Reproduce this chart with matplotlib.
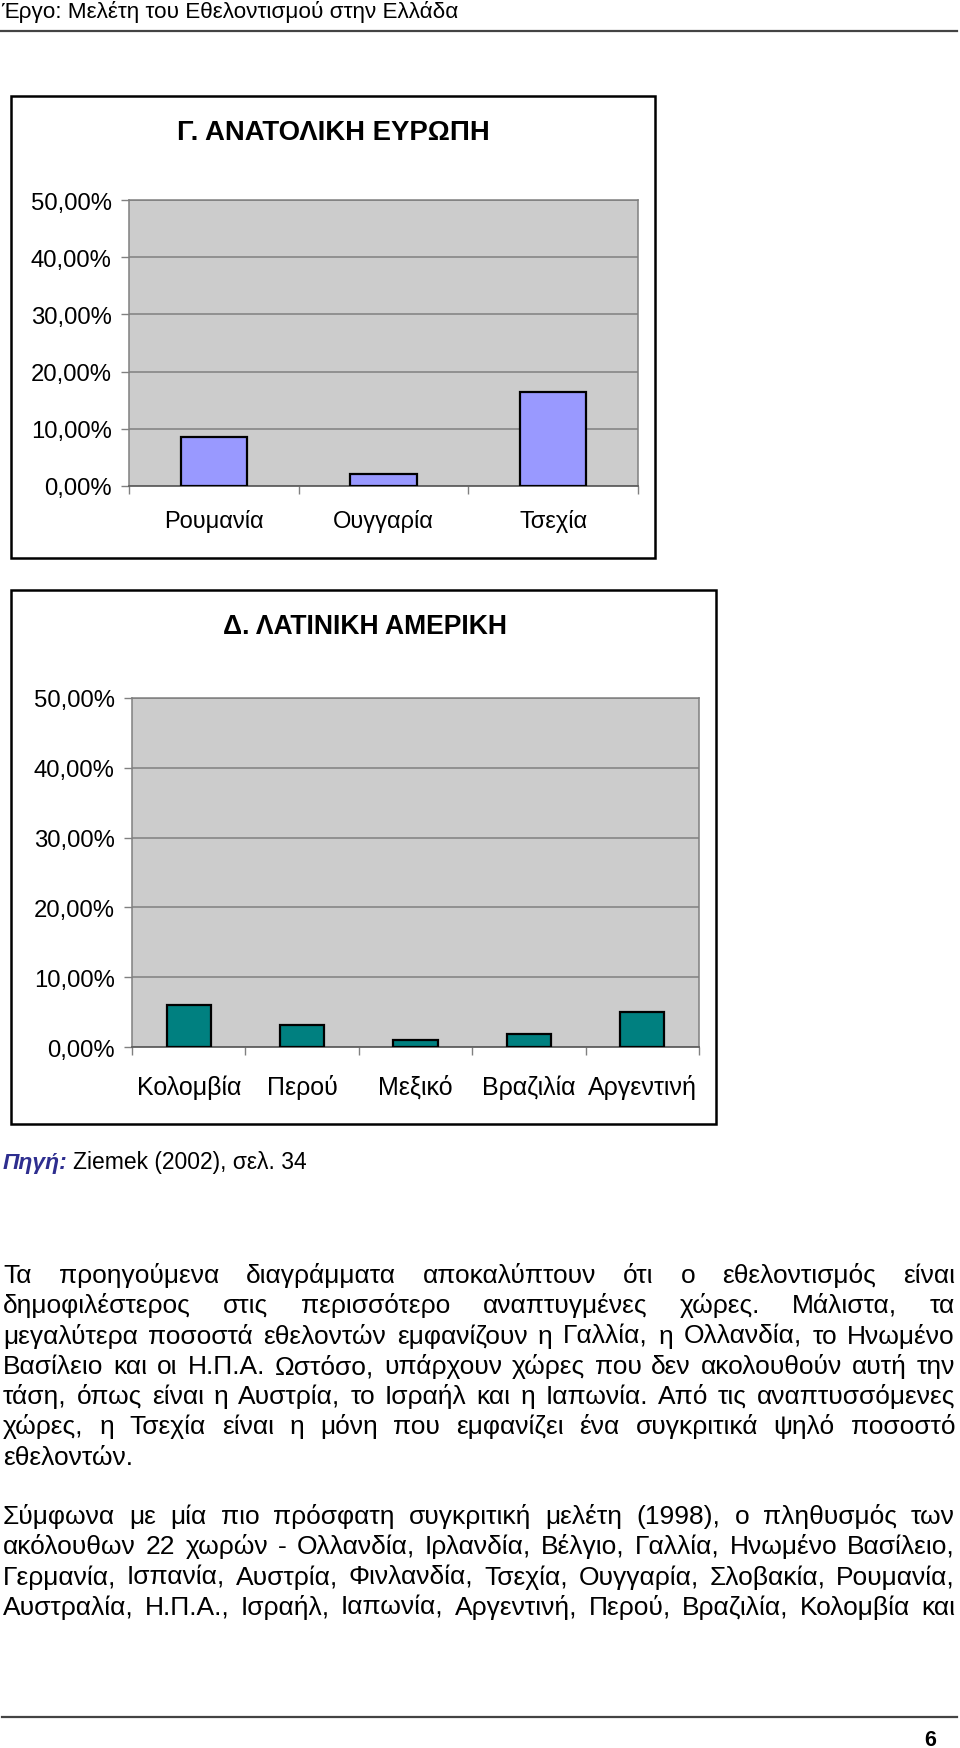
import matplotlib
matplotlib.use("Agg")
import matplotlib.pyplot as plt
from matplotlib.patches import Rectangle
from matplotlib.lines import Line2D
from matplotlib.ticker import FuncFormatter
from matplotlib.transforms import blended_transform_factory, offset_copy

# one family only: Liberation Sans has all the Greek we need
plt.rcParams['font.family'] = 'Liberation Sans'

W, H = 960, 1749

# chart data
east_countries = ['Ρουμανία', 'Ουγγαρία', 'Τσεχία']
east_values = [0.085, 0.021, 0.164]
east_title = 'Γ. ΑΝΑΤΟΛΙΚΗ ΕΥΡΩΠΗ'

latin_countries = ['Κολομβία', 'Περού', 'Μεξικό', 'Βραζιλία', 'Αργεντινή']
latin_values = [0.060, 0.031, 0.010, 0.019, 0.050]
latin_title = 'Δ. ΛΑΤΙΝΙΚΗ ΑΜΕΡΙΚΗ'

y_ticks = [0.0, 0.1, 0.2, 0.3, 0.4, 0.5]

header = 'Έργο: Μελέτη του Εθελοντισμού στην Ελλάδα'
source_bold = 'Πηγή:'
source_rest = 'Ziemek (2002), σελ. 34'

para1 = [
    'Τα προηγούμενα διαγράμματα αποκαλύπτουν ότι ο εθελοντισμός είναι',
    'δημοφιλέστερος στις περισσότερο αναπτυγμένες χώρες. Μάλιστα, τα',
    'μεγαλύτερα ποσοστά εθελοντών εμφανίζουν η Γαλλία, η Ολλανδία, το Ηνωμένο',
    'Βασίλειο και οι Η.Π.Α. Ωστόσο, υπάρχουν χώρες που δεν ακολουθούν αυτή την',
    'τάση, όπως είναι η Αυστρία, το Ισραήλ και η Ιαπωνία. Από τις αναπτυσσόμενες',
    'χώρες, η Τσεχία είναι η μόνη που εμφανίζει ένα συγκριτικά ψηλό ποσοστό',
    'εθελοντών.',
]
para2 = [
    'Σύμφωνα με μία πιο πρόσφατη συγκριτική μελέτη (1998), ο πληθυσμός των',
    'ακόλουθων 22 χωρών - Ολλανδία, Ιρλανδία, Βέλγιο, Γαλλία, Ηνωμένο Βασίλειο,',
    'Γερμανία, Ισπανία, Αυστρία, Φινλανδία, Τσεχία, Ουγγαρία, Σλοβακία, Ρουμανία,',
    'Αυστραλία, Η.Π.Α., Ισραήλ, Ιαπωνία, Αργεντινή, Περού, Βραζιλία, Κολομβία και',
]
page_no = '6'


def fx(x):
    return x / W


def fy(y):
    return 1 - y / H


fig = plt.figure(figsize=(W / 100, H / 100), dpi=100)
fig.patch.set_facecolor('white')
renderer = fig.canvas.get_renderer()


def pct(v, pos):
    return ('%.2f%%' % (v * 100)).replace('.', ',')


def bar_chart(box, plot, title, title_xy, title_size, cats, vals, color,
              label_size, label_drop):
    # outer frame of the chart object
    bx0, by0, bx1, by1 = box
    fig.add_artist(Rectangle((fx(bx0), fy(by1)), (bx1 - bx0) / W, (by1 - by0) / H,
                             transform=fig.transFigure, fill=False,
                             edgecolor='black', linewidth=1.8))
    fig.text(fx(title_xy[0]), fy(title_xy[1]), title, fontsize=title_size,
             fontweight='bold', ha='center', va='center')

    px0, py0, px1, py1 = plot
    ax = fig.add_axes([fx(px0), fy(py1), (px1 - px0) / W, (py1 - py0) / H])
    ax.set_facecolor('#cccccc')
    x = range(len(cats))
    ax.bar(x, vals, width=0.39, color=color, edgecolor='black',
           linewidth=1.6, zorder=3)
    ax.set_xlim(-0.5, len(cats) - 0.5)
    ax.set_ylim(0, 0.5)
    ax.set_yticks(y_ticks)
    ax.yaxis.set_major_formatter(FuncFormatter(pct))
    ax.yaxis.grid(True, color='#808080', linewidth=1.1)
    ax.set_axisbelow(True)
    ax.tick_params(axis='y', length=6, width=1, color='#808080',
                   labelsize=17.2, pad=6.5)

    # category separators as ticks, names on a common baseline below
    ax.set_xticks([i - 0.5 for i in range(len(cats) + 1)])
    ax.set_xticklabels([])
    ax.tick_params(axis='x', which='major', length=6, width=1,
                   color='#808080', direction='out')
    trans = offset_copy(blended_transform_factory(ax.transData, ax.transAxes),
                        fig=fig, y=-label_drop, units='dots')
    for i, c in zip(x, cats):
        ax.text(i, 0, c, transform=trans, fontsize=label_size,
                ha='center', va='baseline', clip_on=False)

    for s in ['left', 'right', 'top']:
        ax.spines[s].set_color('#808080')
        ax.spines[s].set_linewidth(1.1)
    ax.spines['bottom'].set_color('#606060')
    ax.spines['bottom'].set_linewidth(1.3)
    return ax


bar_chart((11, 97, 655, 559), (129, 201, 638, 487), east_title, (333, 133),
          19.8, east_countries, east_values, '#9999ff', 17, 41)
bar_chart((11, 591, 716, 1125), (132, 699, 699, 1048), latin_title, (365, 627),
          19.1, latin_countries, latin_values, '#008080', 18, 47)

# page header and footer
fig.text(fx(1), fy(12), header, fontsize=16.2, ha='left', va='center')
fig.add_artist(Line2D([0, fx(957)], [fy(32), fy(32)], transform=fig.transFigure,
                      color='#444444', linewidth=1.6))
fig.add_artist(Line2D([fx(2), fx(957)], [fy(1718), fy(1718)],
                      transform=fig.transFigure, color='#444444', linewidth=1.6))
fig.text(fx(936), fy(1741), page_no, fontsize=15.5, fontweight='bold',
         ha='right', va='center')

# source line
src = fig.text(fx(3), fy(1162), source_bold, fontsize=16.5, fontweight='bold',
               fontstyle='italic', color='#2e2e8f', ha='left', va='center')
sw = src.get_window_extent(renderer).width
fig.text(fx(3 + sw + 5), fy(1162), source_rest, fontsize=16.5, ha='left',
         va='center')


def text_width(s, size):
    t = fig.text(0, 0, s, fontsize=size)
    w = t.get_window_extent(renderer).width
    t.remove()
    return w


def write_line(line, y, size, justify, x0=3, x1=955):
    words = line.split(' ')
    arts = [fig.text(0, fy(y), w, fontsize=size, ha='left', va='baseline')
            for w in words]
    widths = [a.get_window_extent(renderer).width for a in arts]
    if justify and len(words) > 1:
        gap = (x1 - x0 - sum(widths)) / (len(words) - 1)
    else:
        gap = text_width('n n', size) - text_width('nn', size)
    x = x0
    for a, w in zip(arts, widths):
        a.set_x(fx(x))
        x += w + gap


body_size = 19
step = 30.3
for i, line in enumerate(para1):
    write_line(line, round(1283 + i * step), body_size, i < len(para1) - 1)
for i, line in enumerate(para2):
    write_line(line, round(1524 + i * step), body_size, True)

fig.savefig('out.png', dpi=100, facecolor='white')
